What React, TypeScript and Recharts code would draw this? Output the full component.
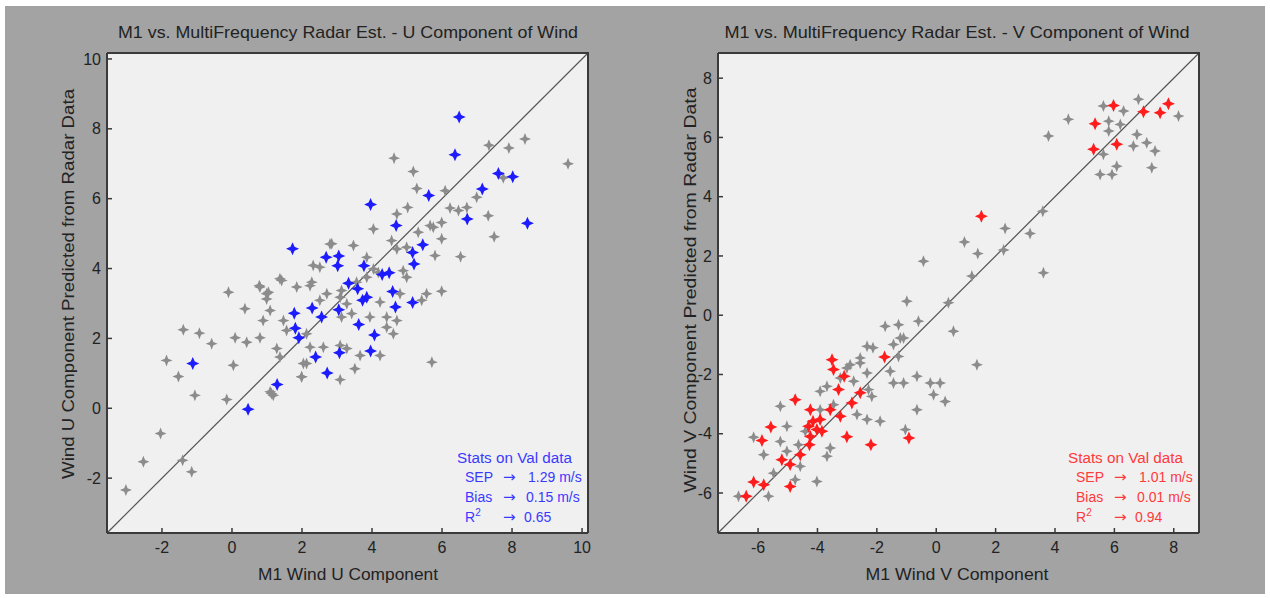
import React from "react";
import {
  ScatterChart,
  Scatter,
  XAxis,
  YAxis,
  CartesianGrid,
  ReferenceLine,
} from "recharts";

// U component: [M1 measured, radar predicted]
const uGray: [number, number][] = [
  [8.37, 7.71], [7.34, 7.53], [7.91, 7.45], [4.63, 7.16], [5.18, 6.78], [5.28, 6.29],
  [6.09, 6.23], [6.99, 6.04], [5.02, 5.75], [6.23, 5.73], [6.47, 5.66], [7.32, 5.51],
  [4.71, 5.56], [4.04, 5.13], [5.75, 5.18], [5.99, 4.85], [7.49, 4.91], [4.56, 4.8],
  [4.71, 4.56], [5.99, 5.32], [5.66, 5.23], [3.47, 4.66], [2.85, 4.71], [4.99, 4.61],
  [5.8, 4.37], [6.53, 4.34], [2.32, 4.09], [2.51, 4.04], [3.85, 4.32], [4.04, 3.99],
  [4.89, 3.94], [4.99, 3.75], [4.18, 3.89], [1.42, 3.66], [0.8, 3.47], [1.04, 3.32],
  [2.28, 3.61], [0.99, 3.13], [-0.1, 3.32], [0.37, 2.85], [1.09, 2.8], [0.89, 2.51],
  [1.47, 2.51], [5.56, 3.28], [5.99, 3.35], [5.42, 3.09], [4.23, 3.04], [3.09, 3.18],
  [3.13, 2.61], [3.42, 2.71], [4.42, 2.61], [4.71, 2.51], [3.94, 2.61], [4.61, 2.13],
  [4.42, 2.32], [-1.39, 2.25], [-0.93, 2.15], [-0.58, 1.85], [0.09, 2.02], [0.42, 1.89],
  [0.8, 2.02], [1.28, 1.71], [1.37, 1.47], [2.23, 1.75], [2.61, 1.75], [3.09, 1.8],
  [3.28, 1.71], [4.23, 1.51], [3.66, 1.51], [1.56, 2.23], [2.13, 2.13], [-1.87, 1.37],
  [0.04, 1.23], [-1.53, 0.91], [1.99, 0.9], [3.09, 0.82], [3.51, 1.13], [5.71, 1.32],
  [-1.06, 0.37], [-0.15, 0.25], [1.09, 0.47], [1.18, 0.37], [-2.04, -0.72], [-2.53, -1.53],
  [-1.41, -1.49], [-1.15, -1.82], [2.13, 1.28], [3.13, 3.37], [4.8, 3.28], [3.56, 3.61],
  [2.71, 3.28], [9.6, 7.0], [-3.03, -2.34], [3.85, 3.75], [2.51, 3.09], [1.85, 3.47],
  [3.28, 2.99], [5.32, 5.04], [6.71, 5.75], [7.75, 6.6], [0.78, 3.51], [0.99, 3.28],
  [1.37, 3.71], [2.23, 3.51], [2.8, 4.7], [1.99, 0.9], [2.04, 1.28], [1.13, 0.42],
];

const uVal: [number, number][] = [
  [6.49, 8.34], [6.37, 7.26], [7.61, 6.72], [8.02, 6.63], [7.15, 6.28], [5.62, 6.09],
  [3.96, 5.83], [6.72, 5.42], [8.44, 5.3], [4.69, 5.23], [1.73, 4.57], [5.45, 4.68],
  [5.16, 4.46], [2.69, 4.32], [3.05, 4.36], [3.02, 4.08], [5.2, 4.13], [3.77, 4.08],
  [4.29, 3.83], [4.49, 3.88], [3.33, 3.58], [3.59, 3.42], [4.59, 3.34], [3.85, 3.18],
  [3.73, 3.09], [5.16, 3.03], [4.67, 2.9], [2.29, 2.87], [1.78, 2.72], [3.05, 2.82],
  [2.56, 2.61], [3.62, 2.4], [1.81, 2.29], [1.91, 2.02], [4.07, 2.1], [3.96, 1.64],
  [3.07, 1.59], [2.39, 1.47], [-1.12, 1.28], [2.72, 1.01], [1.29, 0.68], [0.46, -0.03],
];

// V component
const vGray: [number, number][] = [
  [6.81, 7.29], [5.63, 7.06], [6.31, 6.89], [8.16, 6.72], [4.45, 6.61], [5.81, 6.55],
  [6.2, 6.44], [5.81, 6.22], [6.76, 6.1], [3.78, 6.05], [7.09, 5.82], [6.64, 5.71],
  [7.37, 5.54], [5.63, 5.43], [7.26, 4.98], [5.52, 4.75], [5.92, 4.75], [6.08, 5.03],
  [3.59, 3.51], [3.16, 2.76], [2.32, 2.93], [0.95, 2.47], [1.4, 2.08], [2.27, 2.2],
  [3.61, 1.43], [-0.43, 1.82], [1.2, 1.32], [-0.99, 0.47], [0.41, 0.42], [0.58, -0.54],
  [-1.72, -0.37], [-1.27, -0.32], [-0.6, -0.2], [-1.1, -0.77], [-2.33, -1.05], [-2.13, -1.1],
  [-1.27, -1.39], [1.37, -1.67], [-2.9, -1.67], [-2.56, -1.61], [-2.33, -1.95], [-1.55, -1.89],
  [-0.65, -2.06], [-1.44, -2.29], [-1.1, -2.29], [-0.2, -2.29], [0.13, -2.29], [-0.09, -2.68],
  [0.3, -2.91], [-0.65, -3.19], [-1.89, -3.58], [-1.04, -3.86], [-3.91, -2.57], [-3.68, -2.4],
  [-3.23, -2.12], [-2.78, -2.23], [-2.28, -2.51], [-2.17, -2.74], [-2.67, -3.35], [-2.33, -3.52],
  [-5.25, -3.07], [-5.03, -3.75], [-6.15, -4.12], [-5.25, -4.26], [-5.81, -4.71], [-5.03, -4.59],
  [-4.64, -4.37], [-3.57, -4.48], [-3.68, -4.76], [-4.58, -5.1], [-4.75, -5.55], [-4.02, -5.61],
  [-5.65, -6.11], [-6.66, -6.11], [-5.48, -5.33], [-3.91, -3.19], [-4.41, -3.92], [-3.46, -3.02],
  [-3.01, -1.78], [-2.56, -1.44], [-1.21, -0.77], [-1.44, -0.99],
];

const vVal: [number, number][] = [
  [7.82, 7.14], [5.97, 7.08], [7.54, 6.83], [6.98, 6.87], [5.35, 6.46], [5.3, 5.6],
  [6.08, 5.77], [1.52, 3.34], [-3.51, -1.5], [-1.74, -1.41], [-3.46, -1.83], [-3.1, -2.06],
  [-2.56, -2.62], [-3.29, -2.51], [-2.84, -2.96], [-4.75, -2.85], [-4.24, -3.19], [-3.57, -3.19],
  [-3.23, -3.41], [-4.15, -3.58], [-4.3, -3.75], [-4.02, -3.86], [-3.85, -3.92], [-4.24, -4.09],
  [-3.01, -4.1], [-5.57, -3.77], [-5.87, -4.23], [-4.27, -4.37], [-2.2, -4.37], [-0.92, -4.14],
  [-5.2, -4.88], [-4.92, -5.04], [-4.58, -4.71], [-6.15, -5.63], [-5.81, -5.72], [-4.92, -5.78],
  [-6.4, -6.11], [-3.91, -3.52],
];

const uTicks = [-2, 0, 2, 4, 6, 8, 10];
const vTicks = [-6, -4, -2, 0, 2, 4, 6, 8];
const uDomain: [number, number] = [-3.57, 10.17];
const vDomain: [number, number] = [-7.35, 8.85];

const FONT = '"Liberation Sans", Arial, sans-serif';
const toPts = (arr: [number, number][]) => arr.map(([x, y]) => ({ x, y }));

const star = (fill: string, a: number, w: number) => (p: any) => {
  const { cx, cy } = p;
  if (cx == null || cy == null) return <g />;
  const d = `M${cx},${cy - a}L${cx + w},${cy - w}L${cx + a},${cy}L${cx + w},${cy + w}L${cx},${cy + a}L${cx - w},${cy + w}L${cx - a},${cy}L${cx - w},${cy - w}Z`;
  return <path d={d} fill={fill} filter="url(#soft)" />;
};
const noDot = () => <g />;

const EDGE = "#3a3a3a";
const tickStyle = { fill: "#222", fontSize: 16, fontFamily: FONT };
const axisLine = { stroke: EDGE, strokeWidth: 2 };
const tickLine = { stroke: EDGE, strokeWidth: 1.5 };

function Panel({
  gray,
  val,
  color,
  ticks,
  domain,
}: {
  gray: [number, number][];
  val: [number, number][];
  color: string;
  ticks: number[];
  domain: [number, number];
}) {
  const [lo, hi] = domain;
  // top and right edges of the box, drawn on the mirrored axes
  const frame = [
    { x: lo, y: hi },
    { x: hi, y: hi },
    { x: hi, y: lo },
  ];
  return (
    <ScatterChart
      width={620}
      height={598}
      margin={{ top: 33, right: 12, bottom: 0, left: 0 }}
    >
      <CartesianGrid fill="#f0f0f0" stroke="none" />
      <XAxis
        type="number"
        dataKey="x"
        domain={domain}
        ticks={ticks}
        height={65}
        tickSize={-5}
        tickMargin={14}
        tick={tickStyle}
        axisLine={axisLine}
        tickLine={tickLine}
      />
      <YAxis
        type="number"
        dataKey="y"
        domain={domain}
        ticks={ticks}
        width={107}
        tickSize={-5}
        tickMargin={11}
        tick={tickStyle}
        axisLine={axisLine}
        tickLine={tickLine}
      />
      <XAxis
        xAxisId="top"
        orientation="top"
        type="number"
        dataKey="x"
        domain={domain}
        ticks={ticks}
        height={20}
        tickSize={-5}
        tick={false}
        axisLine={axisLine}
        tickLine={tickLine}
      />
      <YAxis
        yAxisId="right"
        orientation="right"
        type="number"
        dataKey="y"
        domain={domain}
        ticks={ticks}
        width={20}
        tickSize={-5}
        tick={false}
        axisLine={axisLine}
        tickLine={tickLine}
      />
      <Scatter
        data={frame}
        xAxisId="top"
        yAxisId="right"
        line={{ stroke: EDGE, strokeWidth: 2 }}
        shape={noDot}
        isAnimationActive={false}
      />
      <Scatter
        data={toPts(gray)}
        shape={star("#8c8c8c", 6, 1.7)}
        isAnimationActive={false}
      />
      <ReferenceLine
        ifOverflow="visible"
        segment={[
          { x: lo, y: lo },
          { x: hi, y: hi },
        ]}
        stroke="#555"
        strokeWidth={1.2}
      />
      <Scatter
        data={toPts(val)}
        shape={star(color, 6.5, 2)}
        isAnimationActive={false}
      />
    </ScatterChart>
  );
}

function Stats({ x, color, sep, bias, r2 }: { x: number; color: string; sep: string; bias: string; r2: string }) {
  const t = { fill: color, fontSize: 14, fontFamily: FONT };
  const arrow = { fill: color, fontSize: 15, fontFamily: '"DejaVu Sans", sans-serif' };
  return (
    <g>
      <text x={x} y={463} {...t} textLength={115} lengthAdjust="spacingAndGlyphs">
        Stats on Val data
      </text>
      <text x={x + 8} y={482} {...t}>SEP</text>
      <text x={x + 46} y={482} {...arrow}>→</text>
      <text x={x + 71} y={482} {...t}>{sep} m/s</text>
      <text x={x + 8} y={502} {...t}>Bias</text>
      <text x={x + 46} y={502} {...arrow}>→</text>
      <text x={x + 69} y={502} {...t}>{bias} m/s</text>
      <text x={x + 8} y={522} {...t}>
        R<tspan dy={-6} fontSize={10}>2</tspan>
      </text>
      <text x={x + 46} y={522} {...arrow}>→</text>
      <text x={x + 67} y={522} {...t}>{r2}</text>
    </g>
  );
}

export default function App() {
  const lab = { fill: "#222", fontSize: 17, fontFamily: FONT };
  return (
    <div style={{ position: "absolute", left: 0, top: 0, width: 1270, height: 598, background: "#fff" }}>
      <svg width={0} height={0} style={{ position: "absolute" }}>
        <defs>
          <filter id="soft" x="-50%" y="-50%" width="200%" height="200%">
            <feGaussianBlur stdDeviation="0.7" />
          </filter>
        </defs>
      </svg>
      <div style={{ position: "absolute", left: 5, top: 6, width: 1260, height: 588, background: "#a3a3a3" }} />
      <div style={{ position: "absolute", left: 0, top: 0 }}>
        <Panel gray={uGray} val={uVal} color="#1a1aff" ticks={uTicks} domain={uDomain} />
      </div>
      <div style={{ position: "absolute", left: 611, top: 0 }}>
        <Panel gray={vGray} val={vVal} color="#ff1a1a" ticks={vTicks} domain={vDomain} />
      </div>
      <svg width={1270} height={598} style={{ position: "absolute", left: 0, top: 0, pointerEvents: "none" }}>
        <text x={348} y={38} textAnchor="middle" {...lab} textLength={460} lengthAdjust="spacingAndGlyphs">
          M1 vs. MultiFrequency Radar Est. - U Component of Wind
        </text>
        <text x={957} y={38} textAnchor="middle" {...lab} textLength={465} lengthAdjust="spacingAndGlyphs">
          M1 vs. MultiFrequency Radar Est. - V Component of Wind
        </text>
        <text x={348} y={580} textAnchor="middle" {...lab} textLength={180} lengthAdjust="spacingAndGlyphs">
          M1 Wind U Component
        </text>
        <text x={957} y={580} textAnchor="middle" {...lab} textLength={183} lengthAdjust="spacingAndGlyphs">
          M1 Wind V Component
        </text>
        <text
          transform="translate(74,284) rotate(-90)"
          textAnchor="middle"
          {...lab}
          textLength={390}
          lengthAdjust="spacingAndGlyphs"
        >
          Wind U Component Predicted from Radar Data
        </text>
        <text
          transform="translate(696,290) rotate(-90)"
          textAnchor="middle"
          {...lab}
          textLength={405}
          lengthAdjust="spacingAndGlyphs"
        >
          Wind V Component Predicted from Radar Data
        </text>
        <Stats x={457} color="#3a3aff" sep="1.29" bias="0.15" r2="0.65" />
        <Stats x={1068} color="#ff3a3a" sep="1.01" bias="0.01" r2="0.94" />
      </svg>
    </div>
  );
}
